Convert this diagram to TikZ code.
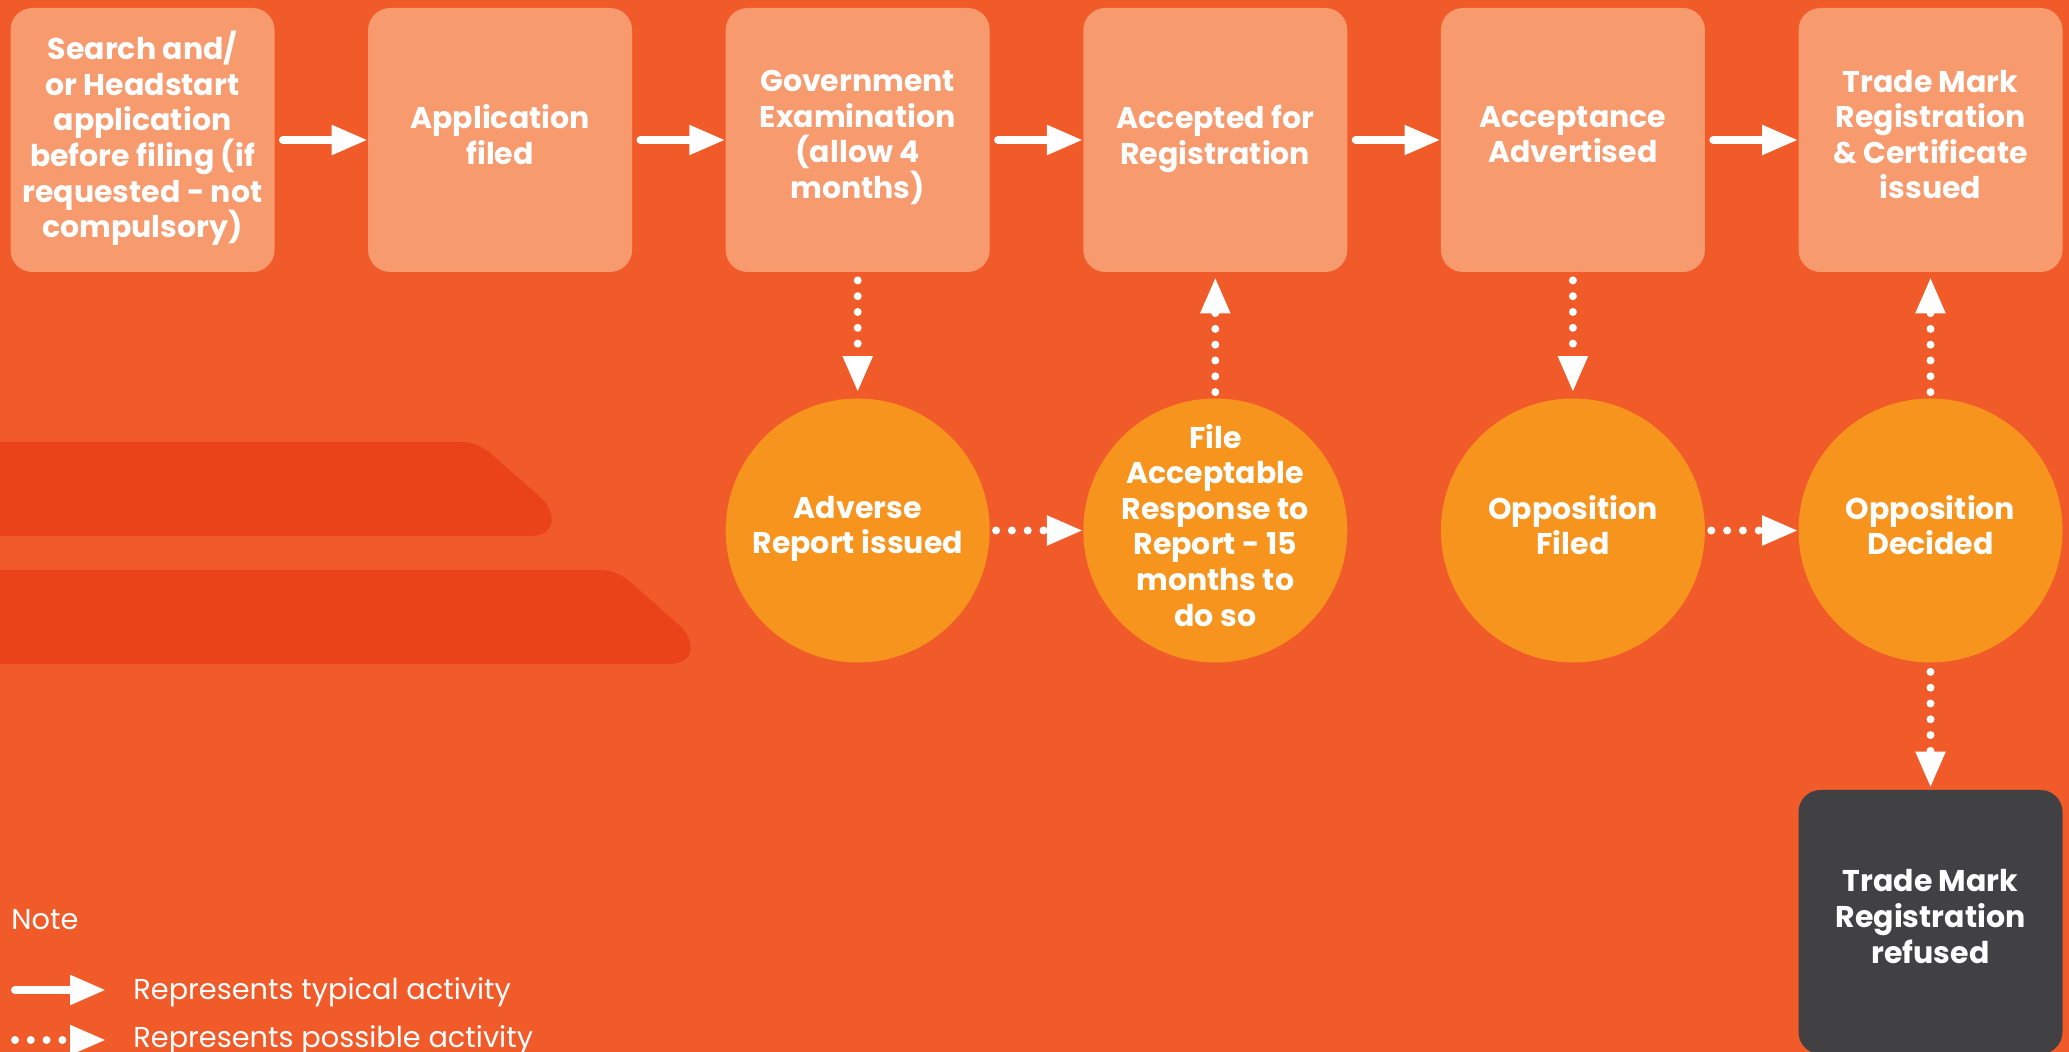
\documentclass[tikz,border=0pt]{standalone}
\usepackage{fontspec}
\setmainfont{Poppins}
\usetikzlibrary{arrows.meta}
\definecolor{bgc}{HTML}{F15A29}
\definecolor{boxc}{HTML}{F79A6E}
\definecolor{circc}{HTML}{F7941E}
\definecolor{decoc}{HTML}{EA4219}
\definecolor{darkc}{HTML}{414042}
\newcommand{\mystrut}{\rule[-5.5pt]{0pt}{20.5pt}}
\tikzset{
  stepbox/.style={rectangle, rounded corners=11pt, fill=boxc, minimum width=132pt, minimum height=132pt, inner sep=0pt, align=center, text=white, font=\fontsize{15}{17.8}\selectfont\bfseries, execute at begin node=\mystrut, execute at end node=\mystrut},
  endbox/.style={stepbox, fill=darkc},
  eventc/.style={circle, fill=circc, minimum size=132pt, inner sep=-10pt, align=center, text=white, font=\fontsize{15}{17.8}\selectfont\bfseries, execute at begin node=\mystrut, execute at end node=\mystrut},
  flow/.style={white, line width=4pt, line cap=round, -{Triangle[length=18pt,width=14pt]}},
  maybe/.style={flow, dash pattern=on 0pt off 7.9pt},
  legtext/.style={anchor=west, inner sep=0pt, text=white, font=\fontsize{14.4}{17}\selectfont},
}
\begin{document}
\begin{tikzpicture}[x=0.5pt,y=-0.5pt]
\useasboundingbox (0,0) rectangle (2069,1052);
\clip (0,0) rectangle (2069,1052);
\fill[bgc] (0,0) rectangle (2069,1052);
% decorative bands
\foreach \dx/\dy in {0/0,139/128}{
  \begin{scope}[shift={(\dx,\dy)}]
  \fill[decoc] (-400,442) -- (461,442) .. controls (473,442) and (480,446) .. (488,451)
     -- (540,497) .. controls (556,511) and (558,536) .. (530,536) -- (-400,536) -- cycle;
  \end{scope}
}
% top row
\node[stepbox] (b1) at (142.5,140) {Search and/\\or Headstart\\application\\before filing (if\\requested - not\\compulsory)};
\node[stepbox] (b2) at (500.1,140) {Application\\filed};
\node[stepbox] (b3) at (857.7,140) {Government\\Examination\\(allow 4\\months)};
\node[stepbox] (b4) at (1215.3,140) {Accepted for\\Registration};
\node[stepbox] (b5) at (1572.9,140) {Acceptance\\Advertised};
\node[stepbox] (b6) at (1930.5,140) {Trade Mark\\Registration\\\& Certificate\\issued};
% circles
\node[eventc] (c3) at (857.7,530.5) {Adverse\\Report issued};
\node[eventc] (c4) at (1215.3,530.5) {File\\Acceptable\\Response to\\Report - 15\\months to\\do so};
\node[eventc] (c5) at (1572.9,530.5) {Opposition\\Filed};
\node[eventc] (c6) at (1930.5,530.5) {Opposition\\Decided};
% refused
\node[endbox] (r6) at (1930.5,922) {Trade Mark\\Registration\\refused};
% typical flow
\draw[flow] ([xshift=4pt]b1.east) -- (b2.west);
\draw[flow] ([xshift=4pt]b2.east) -- (b3.west);
\draw[flow] ([xshift=4pt]b3.east) -- (b4.west);
\draw[flow] ([xshift=4pt]b4.east) -- (b5.west);
\draw[flow] ([xshift=4pt]b5.east) -- (b6.west);
% possible flow
\draw[maybe] ([yshift=-4pt]b3.south) -- ([yshift=3pt]c3.north);
\draw[maybe] ([xshift=3pt]c3.east) -- (c4.west);
\draw[maybe] ([yshift=3pt]c4.north) -- ([yshift=-2.5pt]b4.south);
\draw[maybe] ([yshift=-4pt]b5.south) -- ([yshift=3pt]c5.north);
\draw[maybe] ([xshift=3pt]c5.east) -- (c6.west);
\draw[maybe] ([yshift=3pt]c6.north) -- ([yshift=-2.5pt]b6.south);
\draw[maybe] ([yshift=-4.5pt]c6.south) -- ([yshift=1pt]r6.north);
% legend
\node[legtext] (note) at (11,920) {Note};
\coordinate (l1s) at (15,990);
\coordinate (l1e) at (106,990);
\coordinate (l2s) at (15,1040);
\coordinate (l2e) at (106,1040);
\draw[flow] (l1s) -- (l1e);
\draw[maybe] (l2s) -- (l2e);
\node[legtext] (t1) at (133,992) {Represents typical activity};
\node[legtext] (t2) at (133,1040) {Represents possible activity};
\end{tikzpicture}
\end{document}
